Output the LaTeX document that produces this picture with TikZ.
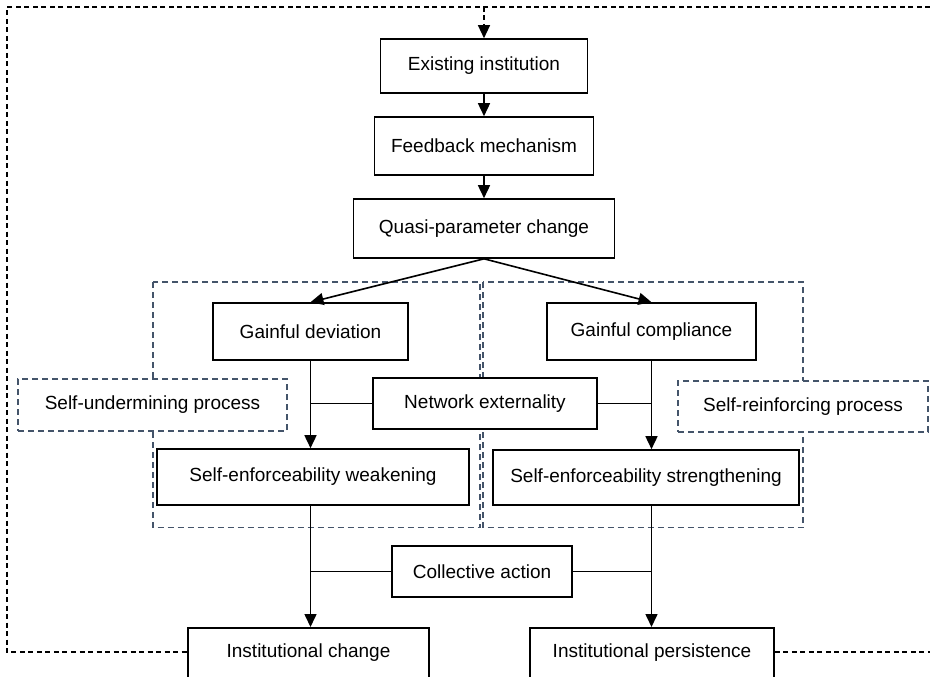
\documentclass[tikz,border=0pt]{standalone}
\usepackage{fontspec}
\setmainfont{Liberation Sans}
\usetikzlibrary{arrows.meta}
\definecolor{regcol}{HTML}{44546A}
\begin{document}
\begin{tikzpicture}[x=1pt,y=-1pt,
  txt/.style={font=\fontsize{19}{23}\selectfont},
  box/.style={txt, draw=black, line width=1.6pt, fill=white, inner sep=0pt, align=center},
  procbox/.style={txt, draw=regcol, line width=1.2pt, dash pattern=on 6pt off 4pt, fill=white, inner sep=0pt, align=center},
  region/.style={draw=regcol, line width=1.2pt, dash pattern=on 6pt off 4pt},
  outer/.style={draw=black, line width=1.3pt, dash pattern=on 5pt off 3.5pt},
  arr/.style={-{Triangle[length=13pt,width=12pt]}, line width=1.6pt},
  link/.style={line width=1.6pt}]
\useasboundingbox (0,0) rectangle (930,677);
% process regions
\draw[region] (153,282) rectangle (480,527.5);
\draw[region] (483,282) rectangle (803,527.5);
% boxes
\node[box, minimum width=207pt, minimum height=54pt] (exist) at (484,66) {Existing institution};
\node[box, minimum width=219pt, minimum height=58pt] (feed) at (484,146) {Feedback mechanism};
\node[box, minimum width=261pt, minimum height=59pt] (quasi) at (484,228.5) {Quasi-parameter change};
\node[box, minimum width=195pt, minimum height=57pt] (dev) at (310.5,331.5) {Gainful deviation};
\node[box, minimum width=209pt, minimum height=57pt] (comp) at (651.5,331.5) {Gainful compliance};
\node[box, minimum width=224pt, minimum height=51pt] (net) at (485,403.5) {Network externality};
\node[procbox, minimum width=269pt, minimum height=52pt] (under) at (152.5,405) {Self-undermining process};
\node[procbox, minimum width=250pt, minimum height=51pt] (reinf) at (803,406.5) {Self-reinforcing process};
\node[box, minimum width=312pt, minimum height=56pt] (weak) at (313,477) {Self-enforceability weakening};
\node[box, minimum width=306pt, minimum height=55pt] (strong) at (646,477.5) {Self-enforceability strengthening};
\node[box, minimum width=180pt, minimum height=51pt] (coll) at (482,571.5) {Collective action};
\node[box, minimum width=241pt, anchor=north, inner ysep=10pt, text height=20pt, text depth=40pt] (change) at (308.5,627) {Institutional change};
\node[box, minimum width=244pt, anchor=north, inner ysep=10pt, text height=20pt, text depth=40pt] (persist) at (652,627) {Institutional persistence};
% feedback loop
\coordinate (ctop) at (484,7);
\coordinate (tl) at (7,7);
\coordinate (tr) at (930,7);
\coordinate (bl) at (7,652);
\coordinate (br) at (930,652);
\draw[outer] (tr) -- (tl) -- (bl) -- (bl -| change.west);
\draw[outer] (br -| persist.east) -- (br);
\draw[outer, arr, line width=1.3pt] (ctop) -- (exist.north);
% main flow
\draw[arr] (exist.south) -- (feed.north);
\draw[arr] (feed.south) -- (quasi.north);
\draw[arr] (quasi.south) -- (dev.north);
\draw[arr] (quasi.south) -- (comp.north);
\draw[arr] (dev.south) -- (dev.south |- weak.north);
\draw[arr] (comp.south) -- (comp.south |- strong.north);
\draw[link] (net.west) -- (dev.south |- net.west);
\draw[link] (net.east) -- (comp.south |- net.east);
\draw[arr] (dev.south |- weak.south) -- (dev.south |- change.north);
\draw[arr] (comp.south |- strong.south) -- (comp.south |- persist.north);
\draw[link] (coll.west) -- (dev.south |- coll.west);
\draw[link] (coll.east) -- (comp.south |- coll.east);
\end{tikzpicture}
\end{document}
